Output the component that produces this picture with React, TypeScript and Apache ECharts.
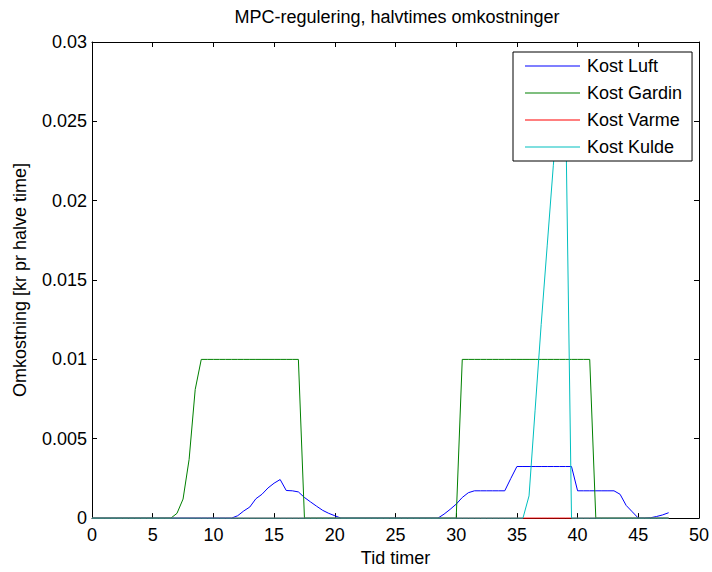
import React, { useEffect, useRef } from "react";
import * as echarts from "echarts";

const TITLE = "MPC-regulering, halvtimes omkostninger";
const X_NAME = "Tid timer";
const Y_NAME = "Omkostning [kr pr halve time]";
const SERIES_NAMES = ["Kost Luft", "Kost Gardin", "Kost Varme", "Kost Kulde"];
const COLORS = ["#0000ff", "#008000", "#ff0000", "#00bfbf"];

// half-hour sample times (hours)
const hours = [
  0, 0.5, 1, 1.5, 2, 2.5, 3, 3.5, 4, 4.5, 5, 5.5, 6, 6.5, 7, 7.5, 8, 8.5, 9, 9.5,
  10, 10.5, 11, 11.5, 12, 12.5, 13, 13.5, 14, 14.5, 15, 15.5, 16, 16.5, 17, 17.5, 18, 18.5, 19, 19.5,
  20, 20.5, 21, 21.5, 22, 22.5, 23, 23.5, 24, 24.5, 25, 25.5, 26, 26.5, 27, 27.5, 28, 28.5, 29, 29.5,
  30, 30.5, 31, 31.5, 32, 32.5, 33, 33.5, 34, 34.5, 35, 35.5, 36, 36.5, 37, 37.5, 38, 38.5, 39, 39.5,
  40, 40.5, 41, 41.5, 42, 42.5, 43, 43.5, 44, 44.5, 45, 45.5, 46, 46.5, 47, 47.5,
];

const kostLuft = [
  0, 0, 0, 0, 0, 0, 0, 0, 0, 0, 0, 0, 0, 0, 0, 0, 0, 0, 0, 0,
  0, 0, 0, 0, 0.00015, 0.00045, 0.0007, 0.00122, 0.0015, 0.0019, 0.0022, 0.00243, 0.00174, 0.00172, 0.00165, 0.0013, 0.00102, 0.00075, 0.00049, 0.0003,
  0.00015, 0, 0, 0, 0, 0, 0, 0, 0, 0, 0, 0, 0, 0, 0, 0, 0, 0, 0.00025, 0.00055,
  0.00088, 0.0013, 0.0016, 0.00172, 0.00172, 0.00172, 0.00172, 0.00172, 0.00172, 0.0025, 0.00325, 0.00325, 0.00325, 0.00325, 0.00325, 0.00325, 0.00325, 0.00325, 0.00325, 0.00325,
  0.00172, 0.00172, 0.00172, 0.00172, 0.00172, 0.00172, 0.00172, 0.0015, 0.0008, 0.0004, 0, 0, 0.00002, 0.0001, 0.0002, 0.00034,
];

const kostGardin = [
  0, 0, 0, 0, 0, 0, 0, 0, 0, 0, 0, 0, 0, 0, 0.0003, 0.0012, 0.0037, 0.0081, 0.01, 0.01,
  0.01, 0.01, 0.01, 0.01, 0.01, 0.01, 0.01, 0.01, 0.01, 0.01, 0.01, 0.01, 0.01, 0.01, 0.01, 0, 0, 0, 0, 0,
  0, 0, 0, 0, 0, 0, 0, 0, 0, 0, 0, 0, 0, 0, 0, 0, 0, 0, 0, 0,
  0, 0.01, 0.01, 0.01, 0.01, 0.01, 0.01, 0.01, 0.01, 0.01, 0.01, 0.01, 0.01, 0.01, 0.01, 0.01, 0.01, 0.01, 0.01, 0.01,
  0.01, 0.01, 0.01, 0, 0, 0, 0, 0, 0, 0, 0, 0, 0, 0, 0, 0,
];

const kostVarme = [
  0, 0, 0, 0, 0, 0, 0, 0, 0, 0, 0, 0, 0, 0, 0, 0, 0, 0, 0, 0,
  0, 0, 0, 0, 0, 0, 0, 0, 0, 0, 0, 0, 0, 0, 0, 0, 0, 0, 0, 0,
  0, 0, 0, 0, 0, 0, 0, 0, 0, 0, 0, 0, 0, 0, 0, 0, 0, 0, 0, 0,
  0, 0, 0, 0, 0, 0, 0, 0, 0, 0, 0, 0, 0, 0, 0, 0, 0, 0, 0, 0,
  0, 0, 0, 0, 0, 0, 0, 0, 0, 0, 0, 0, 0, 0, 0, 0,
];

const kostKulde = [
  0, 0, 0, 0, 0, 0, 0, 0, 0, 0, 0, 0, 0, 0, 0, 0, 0, 0, 0, 0,
  0, 0, 0, 0, 0, 0, 0, 0, 0, 0, 0, 0, 0, 0, 0, 0, 0, 0, 0, 0,
  0, 0, 0, 0, 0, 0, 0, 0, 0, 0, 0, 0, 0, 0, 0, 0, 0, 0, 0, 0,
  0, 0, 0, 0, 0, 0, 0, 0, 0, 0, 0, 0, 0.0014, 0.0068, 0.0122, 0.0172, 0.0222, 0.0268, 0.0267, 0,
  0, 0, 0, 0, 0, 0, 0, 0, 0, 0, 0, 0, 0, 0, 0, 0,
];

const X_MIN = 0, X_MAX = 50, X_STEP = 5;
const Y_MIN = 0, Y_MAX = 0.03, Y_STEP = 0.005;

const FONT = "'Liberation Sans', Arial, Helvetica, sans-serif";
const FS = 18;

export default function App() {
  const ref = useRef<HTMLDivElement>(null);
  useEffect(() => {
    document.body.style.margin = "0";
    const chart = echarts.init(ref.current!, null, { renderer: "svg" });
    const allSeries = [kostLuft, kostGardin, kostVarme, kostKulde];
    const axisCommon = {
      axisLine: { show: true, onZero: false, lineStyle: { color: "#000", width: 1 } },
      axisTick: { show: true, inside: true, length: 5, lineStyle: { color: "#000" } },
      splitLine: { show: false },
    };
    chart.setOption({
      animation: false,
      backgroundColor: "#fff",
      textStyle: { fontFamily: FONT },
      title: {
        text: TITLE,
        left: 392,
        top: 3,
        textAlign: "center",
        textStyle: { fontFamily: FONT, fontSize: FS, fontWeight: "normal", color: "#000" },
      },
      grid: { left: 92, right: 13, top: 42, bottom: 52, containLabel: false },
      legend: {
        orient: "vertical",
        left: 513,
        top: 52,
        z: 10,
        data: SERIES_NAMES,
        icon: "rect",
        itemWidth: 55,
        itemHeight: 1,
        itemGap: 9,
        padding: [5, 10, 5, 12],
        backgroundColor: "#fff",
        borderColor: "#000",
        borderWidth: 1,
        borderRadius: 0,
        textStyle: { fontFamily: FONT, fontSize: FS, color: "#000", padding: [0, 0, 0, 2], lineHeight: 17 },
      },
      xAxis: [
        {
          type: "value", min: X_MIN, max: X_MAX, interval: X_STEP, position: "bottom",
          name: X_NAME, nameLocation: "middle", nameGap: 30,
          nameTextStyle: { fontFamily: FONT, fontSize: FS, color: "#000" },
          axisLabel: { fontFamily: FONT, fontSize: FS, color: "#000", margin: 8 },
          ...axisCommon,
        },
        {
          type: "value", min: X_MIN, max: X_MAX, interval: X_STEP, position: "top",
          axisLabel: { show: false },
          ...axisCommon,
        },
      ],
      yAxis: [
        {
          type: "value", min: Y_MIN, max: Y_MAX, interval: Y_STEP, position: "left",
          name: Y_NAME, nameLocation: "middle", nameGap: 63,
          nameTextStyle: { fontFamily: FONT, fontSize: FS, color: "#000" },
          axisLabel: {
            fontFamily: FONT, fontSize: FS, color: "#000", margin: 5,
            formatter: (v: number) => String(+v.toFixed(3)),
          },
          ...axisCommon,
        },
        {
          type: "value", min: Y_MIN, max: Y_MAX, interval: Y_STEP, position: "right",
          axisLabel: { show: false },
          ...axisCommon,
        },
      ],
      series: allSeries.map((vals, i) => ({
        name: SERIES_NAMES[i],
        type: "line",
        xAxisIndex: 0,
        yAxisIndex: 0,
        data: hours.map((t, k) => [t, vals[k]]),
        symbol: "none",
        showSymbol: false,
        clip: false,
        lineStyle: { color: COLORS[i], width: 1 },
        itemStyle: { color: COLORS[i] },
        z: 2,
      })),
    });
    return () => chart.dispose();
  }, []);
  return <div ref={ref} style={{ width: 712, height: 572 }} />;
}
